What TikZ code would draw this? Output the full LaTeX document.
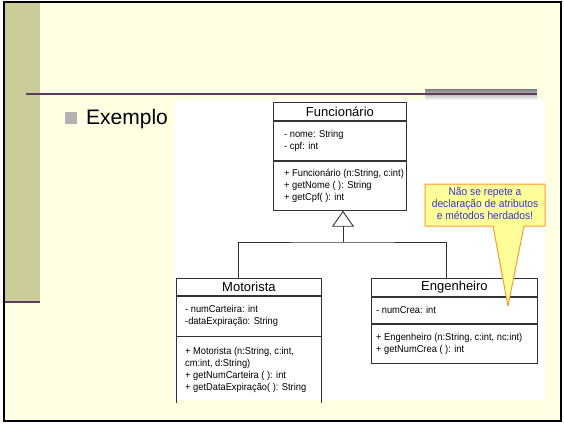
\documentclass[tikz,border=0pt]{standalone}
\usepackage{fontspec}
\setmainfont{Liberation Sans}
\newfontfamily\umlfont[FakeStretch=0.93]{Liberation Sans}
\usetikzlibrary{arrows.meta,calc,positioning}
\definecolor{page}{HTML}{FFFFE3}
\definecolor{strip}{HTML}{CCCC99}
\definecolor{rule}{HTML}{5E3A5E}
\definecolor{shade}{HTML}{B2B2B2}
\definecolor{umlline}{HTML}{333333}
\definecolor{notefill}{HTML}{FFFF99}
\definecolor{noteedge}{HTML}{FF9933}
\definecolor{notetext}{HTML}{3333CC}

\begin{document}
\begin{tikzpicture}[x=1pt,y=-1pt,
  part/.style={draw=umlline,line width=0.9pt,anchor=north west,inner sep=0pt},
  title/.style={font=\fontsize{13}{15}\selectfont},
  members/.style={anchor=west,align=left,inner sep=0pt,font=\fontsize{10}{12}\umlfont},
  umledge/.style={draw=umlline,line width=0.9pt},
  notebox/.style={fill=notefill,draw=noteedge,line width=1pt,line join=round},
  notetxt/.style={align=center,inner sep=0pt,text=notetext,font=\fontsize{11}{12}\umlfont}]
  \useasboundingbox (0,0) rectangle (564,424);
  % slide background
  \fill[white] (0,0) rectangle (564,424);
  \fill[page] (4,2) rectangle (561,421);
  \fill[strip] (4,2) rectangle (40,302);
  \draw[rule,line width=2pt] (4,302) -- (40,302);
  \fill[shade] (425,89) rectangle (537,100);
  \draw[rule,line width=1.5pt] (26,94) -- (537,94);
  \draw[line width=2pt] (4,2) rectangle (561,421);
  \node[fill=shade,minimum size=12pt,inner sep=0pt] (bullet) at (71,118) {};
  \node[anchor=base west,inner sep=0pt,font=\fontsize{21}{25}\selectfont] (ex) at (86,124) {Exemplo};
  \fill[white] (175,100) rectangle (545,400);

  % Funcionario
  \node[part,title,minimum width=133pt,minimum height=18pt] (ftitle) at (273,102) {Funcionário};
  \node[part,minimum width=133pt,minimum height=39pt] (fattr) at (ftitle.south west) {};
  \node[part,minimum width=133pt,minimum height=49pt] (fmeth) at (fattr.south west) {};
  \node[members] (fattrtxt) at ([xshift=11pt]fattr.west) {- nome: String\\- cpf: int};
  \node[members] (fmethtxt) at ([xshift=11pt]fmeth.west) {+ Funcionário (n:String, c:int)\\+ getNome ( ): String\\+ getCpf( ): int};

  % Motorista
  \node[part,title,minimum width=145pt,minimum height=17pt] (mtitle) at (176,278) {Motorista};
  \node[part,minimum width=145pt,minimum height=40pt] (mattr) at (mtitle.south west) {};
  \node[part,draw=none,minimum width=145pt,minimum height=65pt] (mmeth) at (mattr.south west) {};
  \draw[umledge] (mmeth.north west) -- (mmeth.south west) (mmeth.north east) -- (mmeth.south east);
  \node[members] (mattrtxt) at ([xshift=9pt]mattr.west) {- numCarteira: int\\-dataExpiração: String};
  \node[members] (mmethtxt) at ([xshift=9pt]mmeth.west) {+ Motorista (n:String, c:int,\\cm:int, d:String)\\+ getNumCarteira ( ): int\\+ getDataExpiração( ): String};

  % Engenheiro
  \node[part,title,minimum width=166pt,minimum height=18pt] (etitle) at (371,278) {Engenheiro};
  \node[part,minimum width=166pt,minimum height=26pt] (eattr) at (etitle.south west) {};
  \node[part,minimum width=166pt,minimum height=39pt] (emeth) at (eattr.south west) {};
  \node[members] (eattrtxt) at ([xshift=5pt]eattr.west) {- numCrea: int};
  \node[members] (emethtxt) at ([xshift=5pt]emeth.west) {+ Engenheiro (n:String, c:int, nc:int)\\+ getNumCrea ( ): int};

  % heranca
  \coordinate (split) at (343,242);
  \draw[umledge] ([xshift=-10.5pt]mtitle.north) |- (split) -| ([xshift=-8pt]etitle.north);
  \draw[umledge,-{Triangle[open,length=16pt,width=22pt]}] (split) -- (split |- fmeth.south);

  % nota
  \draw[notebox] (425,184) -- (545,184) -- (545,226) -- (524,226) -- (508,306)
    -- (493,226) -- (425,226) -- cycle;
  \node[notetxt] (note) at (485,204) {Não se repete a\\declaração de atributos\\e métodos herdados!};
\end{tikzpicture}
\end{document}
